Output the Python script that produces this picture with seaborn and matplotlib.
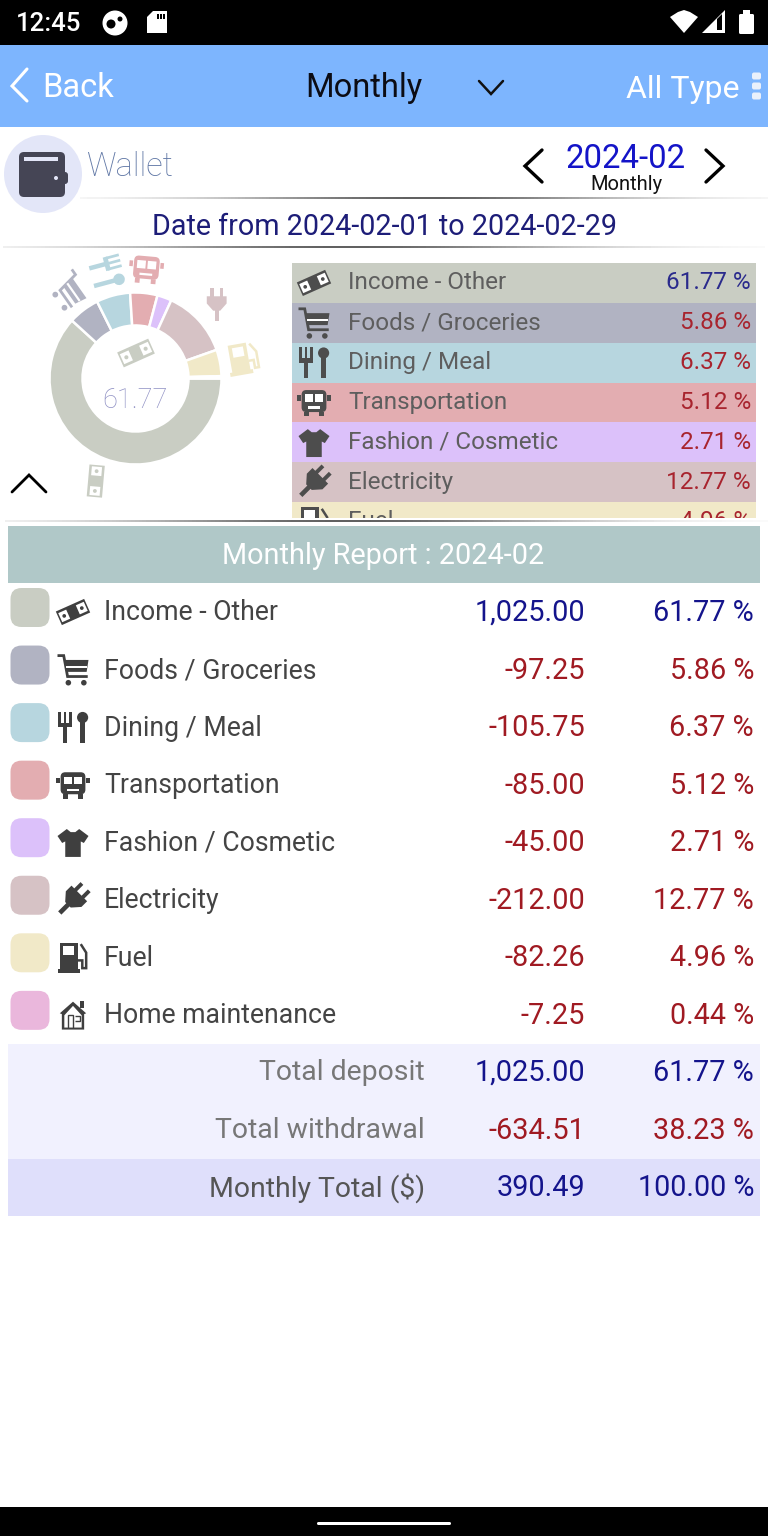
import numpy as np
import matplotlib
matplotlib.use("Agg")
import matplotlib.pyplot as plt
import seaborn as sns
from matplotlib.colors import ListedColormap
from matplotlib.patches import Circle, FancyBboxPatch, Polygon, Rectangle
from matplotlib.transforms import Affine2D

categories = ["Income - Other", "Foods / Groceries", "Dining / Meal", "Transportation",
              "Fashion / Cosmetic", "Electricity", "Fuel", "Home maintenance"]
amounts = ["1,025.00", "-97.25", "-105.75", "-85.00", "-45.00", "-212.00", "-82.26", "-7.25"]
percents = [61.77, 5.86, 6.37, 5.12, 2.71, 12.77, 4.96, 0.44]
icons = ["money", "cart", "dining", "bus", "shirt", "plug", "pump", "house"]
colors = ["#c9cdc3", "#b1b3c2", "#b7d6df", "#e3adb1", "#dcc1fa", "#d6c2c5", "#f1e9c8", "#eab7dc"]

total_labels = ["Total deposit", "Total withdrawal", "Monthly Total ($)"]
total_amounts = ["1,025.00", "-634.51", "390.49"]
total_percents = ["61.77 %", "38.23 %", "100.00 %"]
total_colors = ["#f1f1fe", "#f1f1fe", "#dfdffb"]

# icons around the donut: category index, rotation
donut_icons = {0: -119, 1: -55, 2: -75, 3: -5, 5: 0, 6: 10}

BLUE = "#14148c"
RED = "#a01a22"
DARK = "#444444"
W, H = 768, 1536

sns.set_theme(style="white")
plt.rcParams["font.family"] = ["Roboto", "DejaVu Sans"]

fig = plt.figure(figsize=(W / 100, H / 100), dpi=100, facecolor="white")


def px_axes(x0, y0, x1, y1, zorder=1):
    return fig.add_axes([x0 / W, 1 - y1 / H, (x1 - x0) / W, (y1 - y0) / H], zorder=zorder)


# colour strip next to the donut, last row is cut off
strip = px_axes(292, 263, 756, 518)
sns.heatmap(np.arange(8).reshape(-1, 1), cmap=ListedColormap(colors), cbar=False,
            xticklabels=False, yticklabels=False, ax=strip)
strip.set_ylim(6.4, 0)
strip_row = 255 / 6.4

# totals block
totals = px_axes(8, 1044, 760, 1216)
sns.heatmap(np.arange(3).reshape(-1, 1), cmap=ListedColormap(total_colors), cbar=False,
            xticklabels=False, yticklabels=False, ax=totals)

# donut
R = 86
CX, CY = 135.5, 378.5
pie_ax = px_axes(CX - 1.1 * R, CY - 1.1 * R, CX + 1.1 * R, CY + 1.1 * R)
pie_ax.pie(percents, colors=colors, startangle=0, counterclock=False, radius=1,
           wedgeprops={"width": 33 / R, "edgecolor": "white", "linewidth": 1.8})
pie_ax.set_xlim(-1.1, 1.1)
pie_ax.set_ylim(-1.1, 1.1)

# everything else goes on a full size layer in pixel coordinates
ui = px_axes(0, 0, W, H, zorder=2)
ui.set_xlim(0, W)
ui.set_ylim(H, 0)
ui.axis("off")
ui.patch.set_alpha(0)


def rect(x0, y0, x1, y1, color, z=1):
    ui.add_patch(Rectangle((x0, y0), x1 - x0, y1 - y0, fc=color, ec="none", zorder=z))


def label(x, y, s, color, size, ha="left", weight="normal", z=3):
    # va center sits a bit high for Roboto
    ui.text(x, y + 2, s, color=color, fontsize=size, ha=ha, va="center", fontweight=weight, zorder=z)


def chevron(xs, ys, color="black", lw=2.2):
    ui.plot(xs, ys, color=color, lw=lw, solid_capstyle="round", solid_joinstyle="miter", zorder=3)


def gradient_line(x0, x1, y, peak, z=3):
    t = np.linspace(0, 1, 200)
    vals = 1 - 0.62 * np.exp(-((t - peak) / 0.3) ** 2)
    ui.imshow(vals.reshape(1, -1), extent=(x0, x1, y + 1, y - 1), cmap="gray", vmin=0, vmax=1,
              aspect="auto", zorder=z)


def draw_icon(name, cx, cy, size, color, rot=0, z=4):
    tr = Affine2D().rotate_deg(rot).scale(size, -size).translate(cx, cy) + ui.transData
    parts = []

    def box(x, y, w, h, c=color):
        parts.append(Rectangle((x, y), w, h, fc=c, ec="none"))

    def poly(pts, c=color):
        parts.append(Polygon(pts, closed=True, fc=c, ec="none"))

    def dot(x, y, r, c=color):
        parts.append(Circle((x, y), r, fc=c, ec="none"))

    def line(pts, lw=1.8, c=color):
        parts.append(Polygon(pts, closed=False, fill=False, ec=c, lw=lw))

    if name == "money":
        tilt = np.radians(24)
        rot_pt = lambda x, y: (x * np.cos(tilt) - y * np.sin(tilt), x * np.sin(tilt) + y * np.cos(tilt))
        poly([rot_pt(-1, -.48), rot_pt(1, -.48), rot_pt(1, .48), rot_pt(-1, .48)])
        for sx in (-.62, .62):
            poly([rot_pt(sx - .28, -.32), rot_pt(sx + .28, -.32), rot_pt(sx + .28, .32), rot_pt(sx - .28, .32)], "white")
            dot(*rot_pt(sx, 0), .12)
    elif name == "cart":
        line([(-1, .9), (-.6, .9), (-.35, -.45), (.95, -.45)], lw=2)
        poly([(-.55, .62), (1, .62), (.88, -.15), (-.42, -.15)])
        box(-.45, .1, 1.35, .14, "white")
        dot(-.3, -.85, .18)
        dot(.7, -.85, .18)
    elif name == "dining":
        for x in (-.95, -.6, -.25):
            box(x, .1, .17, .9)
        box(-.95, -.02, .87, .3)
        box(-.66, -1, .28, 1.1)
        dot(.62, .62, .36)
        box(.48, -1, .28, 1.5)
    elif name == "bus":
        parts.append(FancyBboxPatch((-.8, -.62), 1.6, 1.42, boxstyle="round,pad=0,rounding_size=.3", fc=color, ec="none"))
        box(-.6, .02, .54, .5, "white")
        box(.06, .02, .54, .5, "white")
        box(-.4, -.4, .8, .14, "white")
        box(-.65, -.9, .3, .3)
        box(.35, -.9, .3, .3)
        box(-1.08, .1, .22, .36)
        box(.86, .1, .22, .36)
    elif name == "shirt":
        poly([(-.4, .85), (-.15, .65), (.15, .65), (.4, .85), (1, .4), (.7, -.05), (.5, .05),
              (.5, -.95), (-.5, -.95), (-.5, .05), (-.7, -.05), (-1, .4)])
    elif name == "plug":
        # upright, turned 45 degrees where it sits in a row
        box(-.4, .4, .22, .6)
        box(.18, .4, .22, .6)
        poly([(-.62, .5), (.62, .5), (.62, .05), (.22, -.4), (-.22, -.4), (-.62, .05)])
        box(-.13, -1.05, .26, .7)
    elif name == "pump":
        box(-.85, -.8, 1.15, 1.75)
        box(-.62, .15, .7, .6, "white")
        box(-1, -1, 1.45, .25)
        line([(.3, -.2), (.6, -.2), (.6, -.7), (.85, -.7), (.85, .3), (.5, .85)], lw=1.8)
    elif name == "house":
        poly([(-.85, .1), (0, .85), (.85, .1), (.72, .05), (.72, -.95), (-.72, -.95), (-.72, .05)])
        poly([(-.56, -.03), (0, .58), (.56, -.03), (.56, -.82), (-.56, -.82)], "white")
        box(.45, .45, .25, .45)
        line([(-.35, -.82), (-.35, 0), (0, 0), (0, -.82)], lw=1)
        line([(.15, -.4), (.42, -.4), (.42, -.05), (.15, -.05), (.15, -.4)], lw=1)

    for p in parts:
        p.set_transform(tr)
        p.set_zorder(z)
        ui.add_patch(p)


def row_icon(name, cx, cy, size, color):
    draw_icon(name, cx, cy, size * 1.15 if name == "plug" else size, color, -45 if name == "plug" else 0)


# status and navigation bars
rect(0, 0, W, 45, "black")
rect(0, 1507, W, H, "black")
ui.add_patch(FancyBboxPatch((317, 1522), 134, 3, boxstyle="round,pad=0,rounding_size=1.5", fc="white", ec="none", zorder=3))
label(16, 22, "12:45", "white", 18.5, weight="medium")
ui.add_patch(Circle((115, 23), 12.5, fc="white", ec="none", zorder=3))
ui.add_patch(Circle((111, 24), 4.5, fc="black", ec="none", zorder=4))
ui.add_patch(Circle((120, 19), 2.5, fc="black", ec="none", zorder=4))
ui.add_patch(Polygon([(147, 33), (147, 17), (153, 11), (167, 11), (167, 33)], fc="white", ec="none", zorder=3))
for x in (157, 160, 163):
    rect(x, 14, x + 1.5, 19, "black", 4)
ui.add_patch(Polygon([(670, 17), (678, 12), (684, 10), (690, 12), (698, 17), (684, 33)], fc="white", ec="none", zorder=3))
ui.add_patch(Polygon([(702, 33), (725, 10), (725, 33)], fc="white", ec="none", zorder=3))
ui.add_patch(Polygon([(717, 19), (722, 14), (722, 30), (717, 30)], fc="black", ec="none", zorder=4))
ui.add_patch(FancyBboxPatch((739, 14), 15, 20, boxstyle="round,pad=0,rounding_size=1.5", fc="white", ec="none", zorder=3))
rect(743, 10, 750, 15, "white", 3)

# title bar
rect(0, 45, W, 127, "#7db5fe")
chevron([27, 12, 27], [69, 86, 101], "white", 2.2)
label(42, 86, "Back", "white", 23.5)
label(364, 86, "Monthly", "#0c0c14", 23.5, ha="center")
chevron([479, 491, 503], [81, 94, 81], "#111111", 1.8)
label(739, 87, "All Type", "white", 23, ha="right")
for y in (76, 86, 96):
    ui.add_patch(FancyBboxPatch((752, y - 3.5), 9, 7, boxstyle="round,pad=0,rounding_size=2", fc="#eaf0fb", ec="none", zorder=3))

# wallet header
ui.add_patch(Circle((43, 174), 39, fc="#e3e6f8", ec="none", zorder=2))
ui.add_patch(FancyBboxPatch((19, 152), 46, 45, boxstyle="round,pad=0,rounding_size=5", fc="#454555", ec="none", zorder=3))
rect(24, 157, 58, 161, "#e3e6f8", 4)
ui.add_patch(FancyBboxPatch((55, 172), 13, 12, boxstyle="round,pad=0,rounding_size=3", fc="#454555", ec="none", zorder=4))
ui.add_patch(Circle((56, 178), 2, fc="#e3e6f8", ec="none", zorder=5))
label(86, 165, "Wallet", "#6178a6", 23.5, weight="light")
chevron([542, 525, 542], [150, 166, 182], "black", 2.4)
chevron([706, 723, 706], [150, 166, 182], "black", 2.4)
label(626, 157, "2024-02", "#1414c8", 23.7, ha="center")
label(626, 183, "Monthly", "#111111", 14.5, ha="center")
gradient_line(80, 768, 198, 0.5)
label(384, 225, "Date from 2024-02-01 to 2024-02-29", "#1d1d78", 20.7, ha="center")
gradient_line(3, 765, 247, 0.45)

# donut decorations
label(135, 399, f"{percents[0]:.2f}", "#8f90c4", 19.5, ha="center", weight="light")
draw_icon("money", 136, 353, 17, colors[0], 0)
edges = np.cumsum([0] + percents) / 100 * 360
for i, rot in donut_icons.items():
    mid = np.radians((edges[i] + edges[i + 1]) / 2)
    draw_icon(icons[i], CX + 110 * np.cos(mid), CY + 110 * np.sin(mid), 16, colors[i], rot)
chevron([12, 29, 46], [492, 475, 492], "black", 2)

# strip rows, the last one runs under the mask below
for i in range(7):
    y = 263 + strip_row * (i + 0.5)
    row_icon(icons[i], 314, y, 15.5, "#4d4d4d")
    label(348, y - 2, categories[i], "#5e5e5e", 17.5, z=4)
    label(751, y - 2, f"{percents[i]:.2f} %", "#2a2a8c" if i == 0 else "#a8242e", 17.5, ha="right", z=4)
rect(285, 518, 768, 526, "white", 5)
rect(0, 518, 285, 526, "white", 5)
gradient_line(5, 768, 521, 0.45, z=6)

# report table
rect(8, 526, 760, 583, "#b0c8c8", 5)
label(383, 554, "Monthly Report : 2024-02", "white", 20.8, ha="center", z=6)
row = 57.55
for i, name in enumerate(categories):
    y = 611 + row * i
    ui.add_patch(FancyBboxPatch((10.5, y - 23), 39, 39, boxstyle="round,pad=0,rounding_size=11",
                                fc=colors[i], ec="none", zorder=3))
    row_icon(icons[i], 73, y + 1, 15.5, "#3f3f3f")
    label(104, y, name, DARK, 19.2)
    c = BLUE if i == 0 else RED
    label(585, y, amounts[i], c, 20.8, ha="right")
    label(754, y, f"{percents[i]:.2f} %", c, 20.7, ha="right")

for i, name in enumerate(total_labels):
    y = 1072 + row * i
    c = RED if i == 1 else BLUE
    label(425, y - 1, name, "#777777" if i < 2 else "#555555", 20.4, ha="right")
    label(585, y - 1, total_amounts[i], c, 20.8, ha="right")
    label(754, y - 1, total_percents[i], c, 20.7, ha="right")

fig.savefig("out.png", dpi=100, facecolor="white")
